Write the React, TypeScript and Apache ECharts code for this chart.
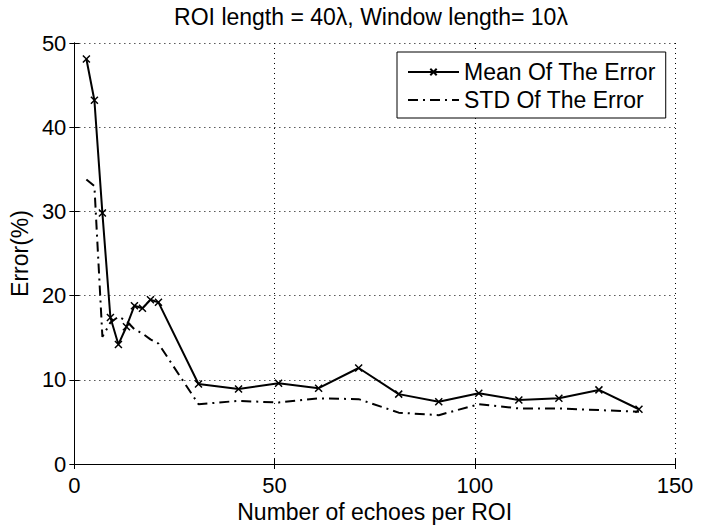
import React, { useEffect, useRef } from "react";
import * as echarts from "echarts";

const titleText = "ROI length = 40\u03bb, Window length= 10\u03bb";
const xName = "Number of echoes per ROI";
const yName = "Error(%)";
const seriesNames = ["Mean Of The Error", "STD Of The Error"];
const echoes = [3, 5, 7, 9, 11, 13, 15, 17, 19, 21, 31, 41, 51, 61, 71, 81, 91, 101, 111, 121, 131, 141];
const meanError = [48.1, 43.2, 29.8, 17.4, 14.2, 16.3, 18.8, 18.5, 19.5, 19.2, 9.5, 8.9, 9.6, 9.0, 11.4, 8.3, 7.4, 8.4, 7.6, 7.8, 8.8, 6.5];
const stdError = [33.8, 33.0, 15.1, 16.8, 17.5, 17.0, 16.0, 15.5, 14.8, 14.3, 7.1, 7.5, 7.3, 7.8, 7.7, 6.1, 5.8, 7.1, 6.6, 6.6, 6.4, 6.2];

const FONT = "Liberation Sans";

export default function App() {
  const ref = useRef<HTMLDivElement>(null);
  useEffect(() => {
    if (!ref.current) return;
    const chart = echarts.init(ref.current, null, { renderer: "svg" });
    const axisCommon = {
      axisLine: { show: true, lineStyle: { color: "#000", width: 1 } },
      axisTick: { show: true, inside: true, length: 5, lineStyle: { color: "#000" } },
    };
    chart.setOption({
      animation: false,
      backgroundColor: "#fff",
      textStyle: { fontFamily: FONT, color: "#000" },
      graphic: [
        {
          type: "text",
          x: 371,
          y: 17,
          style: {
            text: titleText,
            fontFamily: FONT,
            fontSize: 23,
            fill: "#000",
            textAlign: "center",
            textVerticalAlign: "middle",
          },
        },
      ],
      legend: {
        data: [
          { name: seriesNames[0] },
          { name: seriesNames[1], itemStyle: { opacity: 0 } },
        ],
        orient: "vertical",
        left: 397,
        top: 52,
        itemWidth: 51,
        itemHeight: 8,
        itemGap: 4,
        padding: [8, 10, 6, 10],
        borderColor: "#000",
        borderWidth: 1,
        backgroundColor: "#fff",
        textStyle: { fontFamily: FONT, fontSize: 23, color: "#000", lineHeight: 24 },
      },
      grid: { left: 72, right: 26, top: 43, bottom: 65 },
      xAxis: [
        {
          type: "value",
          min: 0,
          max: 150,
          interval: 50,
          name: xName,
          nameLocation: "middle",
          nameGap: 36,
          nameTextStyle: { fontFamily: FONT, fontSize: 23, color: "#000" },
          ...axisCommon,
          axisLabel: { fontFamily: FONT, fontSize: 22, color: "#000", margin: 10 },
          splitLine: { show: true, lineStyle: { color: "#000", type: [1, 4], width: 1 } },
        },
        {
          type: "value",
          position: "top",
          min: 0,
          max: 150,
          interval: 50,
          ...axisCommon,
          axisLabel: { show: false },
          splitLine: { show: false },
        },
      ],
      yAxis: [
        {
          type: "value",
          min: 0,
          max: 50,
          interval: 10,
          name: yName,
          nameLocation: "middle",
          nameGap: 33,
          nameTextStyle: { fontFamily: FONT, fontSize: 23, color: "#000" },
          ...axisCommon,
          axisLabel: { fontFamily: FONT, fontSize: 22, color: "#000", margin: 8 },
          splitLine: { show: true, lineStyle: { color: "#000", type: [1, 4], width: 1 } },
        },
        {
          type: "value",
          position: "right",
          min: 0,
          max: 50,
          interval: 10,
          ...axisCommon,
          axisLabel: { show: false },
          splitLine: { show: false },
        },
      ],
      series: [
        {
          name: seriesNames[1],
          type: "line",
          data: echoes.map((x, i) => [x, stdError[i]]),
          symbol: "none",
          showSymbol: false,
          lineStyle: { color: "#000", width: 2, type: [10, 5, 2, 5] },
          itemStyle: { color: "#000" },
        },
        {
          name: seriesNames[0],
          type: "line",
          data: echoes.map((x, i) => [x, meanError[i]]),
          symbol: "path://M0 0L10 10M10 0L0 10",
          symbolSize: 7,
          showSymbol: true,
          lineStyle: { color: "#000", width: 2 },
          itemStyle: { color: "#000", borderColor: "#000", borderWidth: 1.5 },
        },
      ],
    });
    return () => chart.dispose();
  }, []);
  return (
    <div
      ref={ref}
      style={{ position: "fixed", left: 0, top: 0, width: 701, height: 529, background: "#fff" }}
    />
  );
}
